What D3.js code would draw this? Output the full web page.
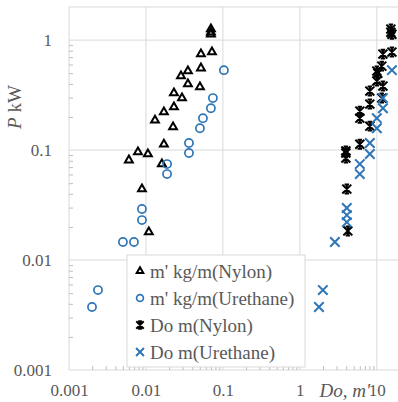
<!DOCTYPE html>
<html>
<head>
<meta charset="utf-8">
<script src="https://cdn.jsdelivr.net/npm/d3@7"></script>
<style>
  body { margin: 0; background: #fff; }
  svg text { font-family: "Liberation Serif", "DejaVu Serif", serif; fill: #595959; }
</style>
</head>
<body>
<div id="chart"></div>
<script>
// m' kg/m (Nylon) vs P kW
const nylonMass = [0.0698, 0.0698, 0.0698, 0.072, 0.0518, 0.0518, 0.0351, 0.0285, 0.0351, 0.0503, 0.0231, 0.0294,
  0.0231, 0.0171, 0.0131, 0.0225, 0.0171, 0.00787, 0.0106, 0.0060, 0.0161, 0.00887, 0.0109];
const nylonMassP = [1.26, 1.18, 1.13, 0.778, 0.746, 0.556, 0.523, 0.471, 0.398, 0.374, 0.330, 0.297,
  0.246, 0.222, 0.187, 0.162, 0.113, 0.096, 0.092, 0.081, 0.0746, 0.0442, 0.018];

// m' kg/m (Urethane)
const urethaneMass = [0.103, 0.0741, 0.0698, 0.055, 0.0503, 0.0362, 0.0362, 0.0188, 0.0188, 0.00887, 0.00887,
  0.00502, 0.00698, 0.00238, 0.00199];
const urethaneMassP = [0.533, 0.297, 0.240, 0.195, 0.158, 0.116, 0.094, 0.0746, 0.0605, 0.0291, 0.0231,
  0.0146, 0.0146, 0.00533, 0.00374];

// Do m (Nylon)
const nylonDo = [15.2, 15.2, 15.7, 15.7, 12.0, 11.6, 10, 10.3, 10, 12.0, 8.11, 11.6, 8.11, 6.01, 6.01, 8.11,
  6.01, 3.96, 3.96, 3.96, 4.07, 4.2];
const nylonDoP = [1.26, 1.18, 1.13, 0.778, 0.746, 0.58, 0.523, 0.50, 0.424, 0.382, 0.344, 0.297, 0.262, 0.226,
  0.195, 0.165, 0.113, 0.098, 0.094, 0.0846, 0.0442, 0.0184];

// Do m (Urethane)
const urethaneDo = [15.7, 12.0, 12.0, 10, 10, 8.11, 8.11, 6.01, 6.01, 4.07, 4.07, 4.07, 2.85, 1.99, 1.77];
const urethaneDoP = [0.533, 0.297, 0.240, 0.195, 0.158, 0.116, 0.092, 0.0746, 0.0605, 0.0297, 0.0256,
  0.0221, 0.0146, 0.00533, 0.00374];

const xMajor = [0.001, 0.01, 0.1, 1, 10];
const yMajor = [0.001, 0.01, 0.1, 1];
const legendLabels = ["m' kg/m(Nylon)", "m' kg/m(Urethane)", "Do m(Nylon)", "Do m(Urethane)"];

const width = 398;
const height = 402;
const blue = '#2e75b6';
const grid = '#d9d9d9';
const serif = '"Liberation Serif", serif';

const x = d3.scaleLog().domain([0.001, 20]).range([69, 400]);
const y = d3.scaleLog().domain([0.001, 2]).range([370, 7]);

const svg = d3.select('#chart')
  .append('svg')
  .attr('width', width)
  .attr('height', height);

// grid
svg.append('g').selectAll('line')
  .data(xMajor)
  .join('line')
  .attr('x1', d => x(d)).attr('x2', d => x(d))
  .attr('y1', y(2)).attr('y2', y(0.001))
  .attr('stroke', grid);
svg.append('g').selectAll('line')
  .data(yMajor)
  .join('line')
  .attr('x1', x(0.001)).attr('x2', width)
  .attr('y1', d => y(d)).attr('y2', d => y(d))
  .attr('stroke', grid);
svg.append('line')
  .attr('x1', x(0.001)).attr('x2', width)
  .attr('y1', y(2)).attr('y2', y(2))
  .attr('stroke', grid);

// minor ticks
function minors(domain) {
  const out = [];
  for (let e = -3; e <= 1; e++) {
    for (let k = 2; k <= 9; k++) {
      const v = k * Math.pow(10, e);
      if (v > domain[0] && v < domain[1]) out.push(v);
    }
  }
  return out;
}
const minorY = svg.append('g')
  .attr('transform', 'translate(' + x(0.001) + ',0)')
  .call(d3.axisLeft(y).tickValues(minors(y.domain())).tickSizeInner(-4).tickSizeOuter(0).tickFormat(''));
const minorX = svg.append('g')
  .attr('transform', 'translate(0,' + y(0.001) + ')')
  .call(d3.axisBottom(x).tickValues(minors(x.domain())).tickSizeInner(-4).tickSizeOuter(0).tickFormat(''));
[minorY, minorX].forEach(g => {
  g.select('.domain').remove();
  g.selectAll('line').attr('stroke', '#bfbfbf');
});

// major labels
const yAxis = svg.append('g')
  .attr('transform', 'translate(' + x(0.001) + ',0)')
  .call(d3.axisLeft(y).tickValues(yMajor).tickSize(0).tickPadding(17).tickFormat(d => String(d)));
const xAxis = svg.append('g')
  .attr('transform', 'translate(0,' + y(0.001) + ')')
  .call(d3.axisBottom(x).tickValues(xMajor).tickSize(0).tickPadding(14).tickFormat(d => String(d)));
[yAxis, xAxis].forEach(g => {
  g.select('.domain').remove();
  g.attr('font-family', serif).attr('font-size', 17);
  g.selectAll('text').attr('fill', '#595959');
});

// axis titles
svg.append('text')
  .attr('transform', 'translate(21,107) rotate(-90)')
  .attr('text-anchor', 'middle')
  .attr('font-family', serif)
  .attr('font-size', 19)
  .html('<tspan font-style="italic">P</tspan> kW');
svg.append('text')
  .attr('x', 370).attr('y', 397)
  .attr('text-anchor', 'end')
  .attr('font-family', serif)
  .attr('font-size', 19)
  .attr('font-style', 'italic')
  .text("Do, m'");

// markers
const starSymbol = {
  draw(ctx, size) {
    const r = Math.sqrt(size) / 2;
    const c = r * 0.5;
    ctx.moveTo(-r, -r); ctx.lineTo(r, r);
    ctx.moveTo(r, -r); ctx.lineTo(-r, r);
    ctx.moveTo(0, -r); ctx.lineTo(0, r);
    ctx.moveTo(-c, -r); ctx.lineTo(c, -r);
    ctx.moveTo(-c, r); ctx.lineTo(c, r);
  }
};
const series = [
  { xs: nylonMass, ys: nylonMassP, type: d3.symbolTriangle2, size: 44, color: '#000', width: 2 },
  { xs: urethaneMass, ys: urethaneMassP, type: d3.symbolCircle, size: 52, color: blue, width: 1.7 },
  { xs: nylonDo, ys: nylonDoP, type: starSymbol, size: 80, color: '#000', width: 2 },
  { xs: urethaneDo, ys: urethaneDoP, type: d3.symbolTimes, size: 60, color: blue, width: 2 }
];

series.forEach(s => {
  svg.append('g').selectAll('path')
    .data(d3.range(s.xs.length))
    .join('path')
    .attr('transform', i => 'translate(' + x(s.xs[i]) + ',' + y(s.ys[i]) + ')')
    .attr('d', d3.symbol().type(s.type).size(s.size))
    .attr('fill', 'none')
    .attr('stroke', s.color)
    .attr('stroke-width', s.width);
});

// legend
const legend = svg.append('g');
legend.append('rect')
  .attr('x', 127).attr('y', 255)
  .attr('width', 178).attr('height', 112)
  .attr('fill', '#fff')
  .attr('stroke', grid);
const rows = legend.selectAll('g.row')
  .data(series)
  .join('g')
  .attr('class', 'row')
  .attr('transform', (d, i) => 'translate(140,' + (271 + i * 27) + ')');
rows.append('path')
  .attr('d', d => d3.symbol().type(d.type).size(d.size * 0.7)())
  .attr('fill', 'none')
  .attr('stroke', d => d.color)
  .attr('stroke-width', d => d.width);
rows.append('text')
  .attr('x', 10)
  .attr('dy', '0.35em')
  .attr('font-family', serif)
  .attr('font-size', 19)
  .text((d, i) => legendLabels[i]);
</script>
</body>
</html>
